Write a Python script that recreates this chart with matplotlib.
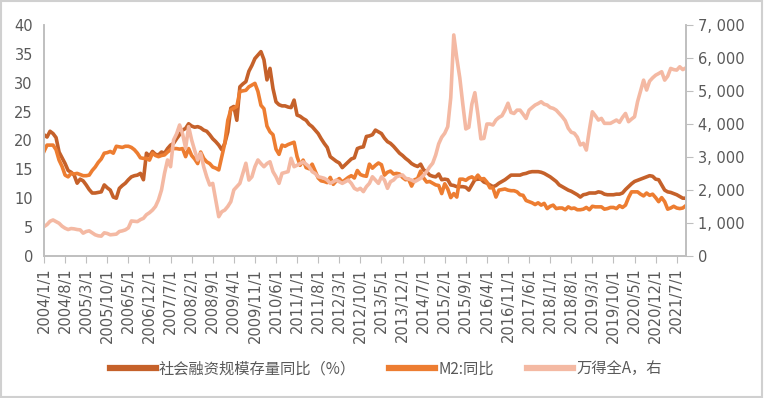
import pandas as pd
import matplotlib.pyplot as plt
from matplotlib.patches import Rectangle

# monthly, 2004/1 .. 2021/10
months = pd.date_range('2004-01-01', periods=214, freq='MS')

tsf_yoy = [
    21.0, 20.6, 21.6, 21.2, 20.5, 18.0, 17.0, 16.0, 14.8, 14.5, 14.0, 12.6,
    13.3, 13.0, 12.3, 11.5, 10.9, 10.9, 11.0, 11.1, 12.3, 11.8, 11.4, 10.2,
    10.0, 11.7, 12.2, 12.6, 13.2, 13.7, 13.9, 14.0, 14.3, 13.2, 17.8, 17.3,
    18.1, 17.6, 17.5, 18.0, 17.8, 18.6, 19.2, 19.5, 20.3, 21.0, 21.8, 22.1,
    22.9, 22.5, 22.3, 22.4, 22.2, 21.8, 21.6, 21.0, 20.3, 19.8, 19.2, 18.4,
    19.5, 21.5, 25.6, 25.9, 23.5, 29.3, 29.8, 30.2, 32.0, 33.0, 34.2, 34.8,
    35.4, 34.0, 30.5, 32.5, 29.0, 26.7, 26.2, 26.0, 26.0, 25.8, 25.7, 27.0,
    24.4, 24.2, 23.8, 23.5, 22.8, 22.4, 21.8, 21.2, 20.3, 19.5, 18.8, 17.2,
    16.8, 16.4, 16.1, 15.3, 15.8, 16.3, 16.8, 17.0, 18.6, 18.8, 18.9, 20.7,
    20.8, 21.0, 21.8, 21.5, 21.2, 20.4, 19.8, 19.5, 19.0, 18.4, 17.8, 17.4,
    16.9, 16.5, 16.0, 15.7, 15.5, 15.9, 14.9, 14.6, 14.0, 13.8, 13.7, 14.2,
    13.2, 13.3, 13.2, 12.3, 12.2, 12.0, 12.0, 12.0, 11.9, 11.4, 12.3, 13.2,
    13.3, 13.3, 12.8, 12.6, 12.3, 12.0, 12.2, 12.6, 12.9, 13.2, 13.6, 14.0,
    14.0, 14.0, 14.0, 14.2, 14.3, 14.5, 14.6, 14.6, 14.6, 14.5, 14.3, 14.0,
    13.7, 13.3, 12.9, 12.3, 12.0, 11.7, 11.4, 11.2, 10.9, 10.6, 10.2, 10.6,
    10.7, 10.9, 10.9, 10.9, 11.1, 11.0, 10.7, 10.6, 10.6, 10.6, 10.7, 10.7,
    10.9, 11.5, 12.0, 12.5, 12.9, 13.1, 13.3, 13.5, 13.7, 13.9, 13.8, 13.3,
    13.2, 12.3, 11.4, 11.1, 11.0, 10.8, 10.6, 10.3, 10.0, 10.0,
]

m2_yoy = [
    18.1, 19.2, 19.2, 19.2, 18.4, 16.6, 15.5, 14.0, 13.7, 14.3, 14.2, 14.3,
    14.1, 13.9, 13.9, 14.0, 14.8, 15.4, 16.2, 16.8, 17.8, 17.9, 18.1, 17.8,
    19.0, 18.9, 18.8, 19.0, 19.0, 18.8, 18.4, 17.8, 17.0, 16.9, 16.9, 16.6,
    17.8, 17.4, 17.2, 17.4, 17.5, 18.0, 18.4, 18.6, 18.6, 18.5, 18.6, 17.2,
    18.6, 17.4, 16.8, 16.0, 18.0, 16.9, 16.3, 16.0, 15.4, 15.2, 14.9, 17.2,
    19.5, 23.5, 25.3, 25.6, 25.9, 28.5, 28.6, 28.7, 29.3, 29.6, 29.9, 28.5,
    26.1, 25.5, 22.5, 21.5, 21.0, 18.5, 17.6, 19.2, 19.0, 19.3, 19.5, 19.7,
    17.2, 15.7, 16.6, 15.3, 15.1, 15.9, 14.7, 13.5, 13.0, 12.9, 12.7, 13.6,
    12.4, 13.0, 13.4, 12.8, 13.2, 13.6, 13.9, 13.5, 14.8, 14.1, 13.9, 13.8,
    15.9, 15.2, 15.7, 16.1, 15.8, 14.0, 14.5, 14.7, 14.2, 14.3, 14.2, 13.6,
    13.2, 13.3, 12.1, 13.2, 13.4, 14.7, 13.5, 12.8, 12.9, 12.6, 12.3, 12.2,
    10.8, 12.5, 11.6, 10.1, 10.8, 10.2, 13.3, 13.3, 13.1, 13.5, 13.7, 13.3,
    14.0, 13.3, 13.4, 12.8, 11.8, 11.8, 10.2, 11.4, 11.5, 11.6, 11.4, 11.3,
    11.3, 11.1, 10.6, 10.5, 9.6, 9.4, 9.2, 8.9, 9.2, 8.8, 9.1, 8.2,
    8.6, 8.8, 8.2, 8.3, 8.3, 8.0, 8.5, 8.2, 8.3, 8.0, 8.0, 8.1,
    8.4, 8.0, 8.6, 8.5, 8.5, 8.5, 8.1, 8.2, 8.4, 8.4, 8.2, 8.7,
    8.4, 8.8, 10.1, 11.1, 11.1, 11.1, 10.7, 10.4, 10.9, 10.5, 10.7, 10.1,
    9.4, 10.1, 9.4, 8.1, 8.3, 8.6, 8.3, 8.2, 8.3, 8.7,
]

wind_a = [
    888, 950, 1050, 1090, 1040, 990, 900, 840, 800, 830, 820, 800,
    790, 690, 740, 760, 700, 640, 610, 600, 700, 680, 640, 650,
    660, 740, 760, 790, 850, 1060, 1050, 1040, 1100, 1140, 1250, 1310,
    1390, 1500, 1700, 2000, 2505, 2910, 2705, 3515, 3700, 3970, 3700, 3265,
    3920, 3515, 3200, 2910, 3110, 2705, 2400, 2150, 2200, 1700, 1190, 1340,
    1390, 1500, 1645, 2000, 2100, 2200, 2500, 2810, 2300, 2400, 2705, 2910,
    2800, 2705, 2800, 2855, 2555, 2400, 2200, 2505, 2530, 2555, 2960, 2705,
    2750, 2800, 2855, 2780, 2705, 2555, 2500, 2400, 2380, 2355, 2300, 2200,
    2250, 2300, 2250, 2200, 2250, 2300, 2200, 2050, 2000, 2050, 1950, 2100,
    2200, 2400, 2300, 2200, 2400, 2300, 2050, 2250, 2300, 2400, 2430, 2455,
    2355, 2330, 2300, 2250, 2300, 2355, 2450, 2555, 2700, 2810, 3060, 3400,
    3600, 3720, 3920, 4800, 6700, 6000, 5400, 4600, 3850, 3900, 4600, 4950,
    4300, 3550, 3565, 4000, 4000, 3970, 4120, 4200, 4250, 4420, 4630, 4350,
    4320, 4420, 4420, 4300, 4170, 4420, 4500, 4575, 4620, 4675, 4600, 4575,
    4500, 4475, 4420, 4320, 4220, 4100, 3870, 3750, 3720, 3600, 3365, 3415,
    3210, 3820, 4370, 4250, 4120, 4170, 4020, 4020, 4020, 4070, 4120, 4050,
    4200, 4320, 4070, 4150, 4220, 4675, 5000, 5330, 5030, 5300, 5400, 5480,
    5530, 5585, 5330, 5450, 5685, 5650, 5635, 5735, 5650, 5700,
]

tick_idx = list(range(0, 214, 7))
tick_labels = [f"{months[i].year}/{months[i].month}/1" for i in tick_idx]

plt.rcParams['font.family'] = ['DejaVu Sans', 'Noto Sans CJK SC']
grey = '#595959'
axis_grey = '#BFBFBF'

fig = plt.figure(figsize=(7.64, 3.98), dpi=100)
fig.patches.append(Rectangle((0.001, 0.002), 0.997, 0.995, transform=fig.transFigure,
                             fill=False, edgecolor='#D0D0D0', linewidth=1.5))
ax = fig.add_axes([0.0576, 0.357, 0.840, 0.580])
ax2 = ax.twinx()

x = range(len(months))
l1, = ax.plot(x, tsf_yoy, color='#C5612A', linewidth=2.6, label='社会融资规模存量同比（%）')
l2, = ax.plot(x, m2_yoy, color='#ED7D31', linewidth=2.6, label='M2:同比')
l3, = ax2.plot(x, wind_a, color='#F4B9A3', linewidth=2.6, label='万得全A，右')

ax.set_xlim(0, 213)
ax.set_ylim(0, 40)
ax.set_yticks(range(0, 41, 5))
ax2.set_ylim(0, 7000)
ax2.set_yticks(range(0, 7001, 1000))
ax2.set_yticklabels(['0'] + [f"{v // 1000}, 000" for v in range(1000, 7001, 1000)])

ax.set_xticks(tick_idx)
ax.set_xticklabels(tick_labels, rotation=90)

for a in (ax, ax2):
    for s in a.spines.values():
        s.set_color(axis_grey)
        s.set_linewidth(1.2)
    a.spines['top'].set_visible(False)
ax.tick_params(axis='x', colors=axis_grey, labelcolor=grey, labelsize=10.5, length=5, direction='out')
ax.tick_params(axis='y', length=0, labelcolor=grey, labelsize=10.5, pad=8)
ax2.tick_params(axis='y', colors=axis_grey, labelcolor=grey, labelsize=10.5, length=5, direction='out')

leg = fig.legend(handles=[l1, l2, l3], loc='center', bbox_to_anchor=(0.505, 0.073), ncol=3,
                 frameon=False, handlelength=3.0, columnspacing=2.2, handletextpad=0.2,
                 prop={'family': ['Noto Sans CJK SC'], 'size': 11})
for t in leg.get_texts():
    t.set_color(grey)
for h in leg.legend_handles:
    h.set_linewidth(4.5)

fig.savefig('out.png', dpi=100)
